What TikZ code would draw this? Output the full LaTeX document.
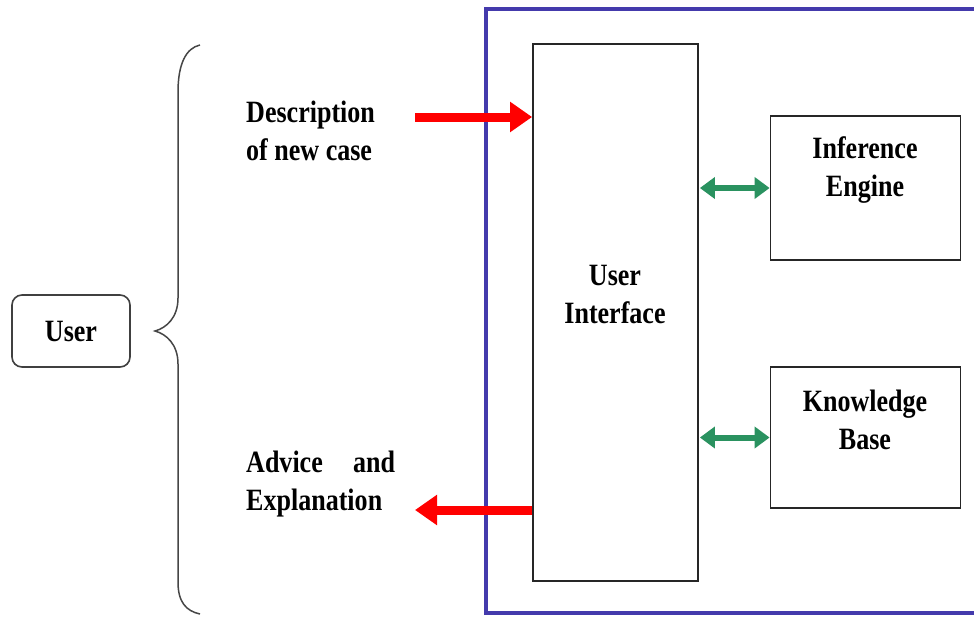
\documentclass[tikz,border=0pt]{standalone}
\usepackage{fontspec}
\setmainfont{Liberation Serif}[FakeStretch=0.84]
\usetikzlibrary{arrows.meta}
\definecolor{frameblue}{RGB}{68,58,172}
\definecolor{arrowgreen}{RGB}{42,146,96}
\definecolor{bracegray}{RGB}{70,70,70}
\begin{document}
\begin{tikzpicture}[x=1pt,y=-1pt,
  lbl/.style={font=\bfseries\fontsize{31}{38}\selectfont, inner sep=0pt},
  box/.style={draw=black!85, line width=1.8pt, inner sep=0pt},
  redarrow/.style={draw=red, line width=9pt, -{Triangle[length=22pt,width=29pt]}},
  greenarrow/.style={draw=arrowgreen, line width=6pt, {Triangle[length=15pt,width=21pt]}-{Triangle[length=15pt,width=21pt]}},
  bracepath/.style={draw=bracegray, line width=1.5pt}]
\useasboundingbox (0,0) rectangle (974,616);
\fill[white] (0,0) rectangle (974,616);
% outer frame
\draw[frameblue, line width=3.5pt] (980,9) -- (486,9) -- (486,613) -- (980,613);
% boxes
\node[box, minimum width=165pt, minimum height=537pt] (ui) at (615.5,312.5) {};
\node[lbl, align=center] (uitext) at (615,294) {User\\Interface};
\node[box, minimum width=190pt, minimum height=144pt] (ie) at (865.5,188) {};
\node[lbl, align=center] (ietext) at (865,170) {Inference\\Engine};
\node[box, minimum width=190pt, minimum height=141pt] (kb) at (865.5,437.5) {};
\node[lbl, align=center] (kbtext) at (865,420) {Knowledge\\Base};
\node[box, rounded corners=10pt, draw=black!75, line width=1.6pt, minimum width=118pt, minimum height=72pt, font=\bfseries\fontsize{31}{38}\selectfont] (user) at (71,331) {User};
% left texts
\node[lbl, align=left, anchor=base west] (desc) at (246,160) {Description\\of new case};
\node[lbl, align=left, text width=149pt, anchor=base west] (adv) at (246,472) {Advice\hfill and\\Explanation};
% brace
\draw[bracepath] (200,45) .. controls (186,48) and (178,64) .. (178,92)
  -- (178,298) .. controls (178,318) and (166,328) .. (155,331)
  .. controls (166,334) and (178,344) .. (178,364)
  -- (178,582) .. controls (178,602) and (186,611) .. (200,614);
% arrows
\coordinate (descend) at (415,117);
\coordinate (advend) at (415,510);
\draw[redarrow] (descend) -- (descend -| ui.west);
\draw[redarrow] (advend -| ui.west) -- (advend);
\draw[greenarrow] (ui.east |- ie.west) ++(1,0) -- (ie.west);
\draw[greenarrow] (ui.east |- kb.west) ++(1,0) -- (kb.west);
\end{tikzpicture}
\end{document}
